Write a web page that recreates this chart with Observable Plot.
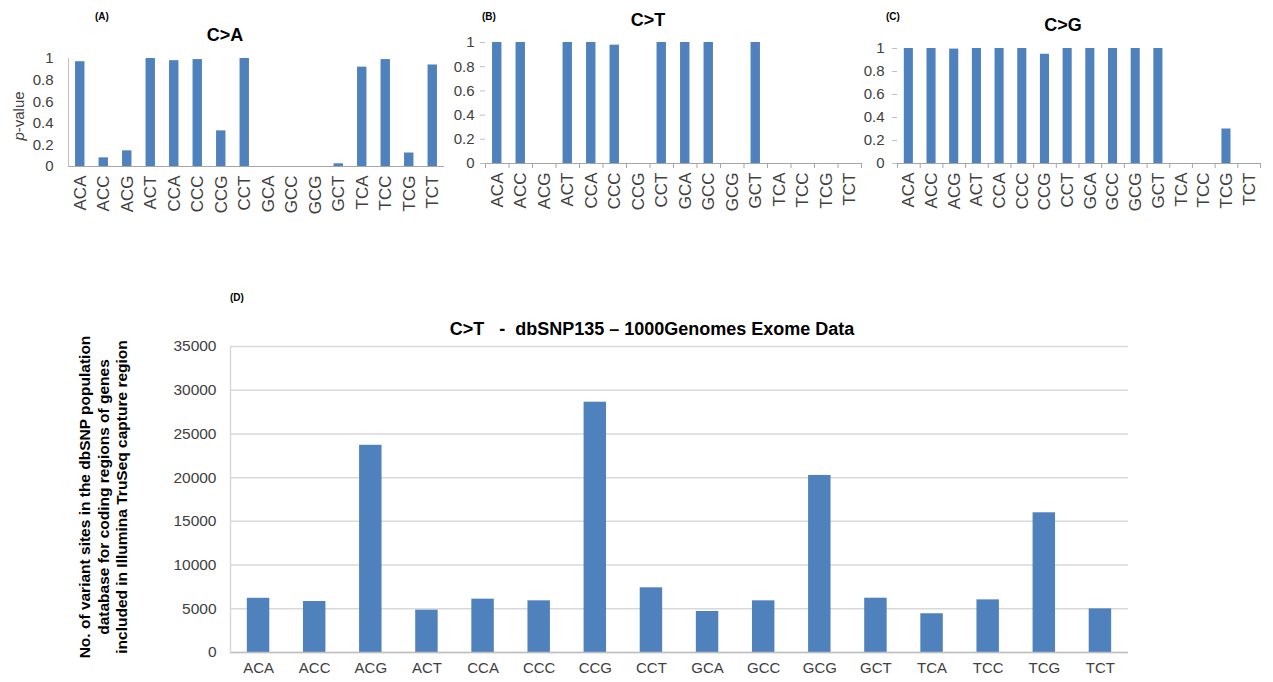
<!DOCTYPE html>
<html>
<head>
<meta charset="utf-8">
<script src="https://cdn.jsdelivr.net/npm/d3@7"></script>
<script src="https://cdn.jsdelivr.net/npm/@observablehq/plot@0.6"></script>
<style>
  html, body { margin: 0; padding: 0; background: #fff; }
  #wrap { position: relative; width: 1273px; height: 682px; font-family: "Liberation Sans", Arial, sans-serif; overflow: hidden; }
  .tag { position: absolute; font-size: 10px; font-weight: bold; color: #000; }
  .title { position: absolute; font-size: 18px; font-weight: bold; color: #000; transform: translate(-50%, -50%); white-space: pre; }
  .rot { position: absolute; transform: translate(-50%, -50%) rotate(-90deg); white-space: nowrap; text-align: center; }
</style>
</head>
<body>
<div id="wrap"></div>
<script>
// ---------- data ----------
const contexts = ["ACA","ACC","ACG","ACT","CCA","CCC","CCG","CCT","GCA","GCC","GCG","GCT","TCA","TCC","TCG","TCT"];
const pValuesCA = [0.97, 0.08, 0.145, 1.0, 0.98, 0.99, 0.33, 1.0, 0, 0, 0, 0.025, 0.92, 0.99, 0.125, 0.94];
const pValuesCT = [1, 1, 0, 1, 1, 0.978, 0, 1, 1, 1, 0, 1, 0, 0, 0, 0];
const pValuesCG = [1, 1, 0.995, 1, 1, 1, 0.95, 1, 1, 1, 1, 1, 0, 0, 0.30, 0];
const dbSnpCounts = [6200, 5830, 23700, 4840, 6100, 5910, 28630, 7400, 4690, 5910, 20250, 6210, 4430, 6020, 15980, 4990];
const pTicks = [0, 0.2, 0.4, 0.6, 0.8, 1];
const countTicks = [0, 5000, 10000, 15000, 20000, 25000, 30000, 35000];

const BLUE = "#4F81BD";
const FONT = '"Liberation Sans", Arial, sans-serif';
const wrap = document.getElementById("wrap");

function place(el, left, top) {
  el.style.position = "absolute";
  el.style.left = left + "px";
  el.style.top = top + "px";
  wrap.appendChild(el);
}
function addText(cls, html, left, top, extra) {
  const d = document.createElement("div");
  d.className = cls;
  d.innerHTML = html;
  d.style.left = left + "px";
  d.style.top = top + "px";
  if (extra) Object.assign(d.style, extra);
  wrap.appendChild(d);
}

function pPanel(values, opts) {
  const {width, height, mL, mR, mT, mB, yPad, excelTicks} = opts;
  const data = contexts.map((c, i) => ({c, v: values[i]}));
  const step = (width - mL - mR) / contexts.length;
  const marks = [
    Plot.barY(data, {x: "c", y: "v", fill: BLUE}),
    Plot.ruleY([0], {stroke: "#A6A6A6"}),
    Plot.axisX({tickRotate: -90, tickSize: 0, tickPadding: 9, label: null, fill: "#404040", fontSize: 17})
  ];
  if (excelTicks) {
    marks.push(
      Plot.axisY({ticks: pTicks, tickSize: 5, tickPadding: yPad, tickFormat: d => String(d), label: null, fill: "#404040", stroke: "#BFBFBF", fontSize: 15}),
      Plot.axisX({tickSize: 5, tickFormat: () => "", label: null, dx: step / 2, stroke: "#A6A6A6"}),
      Plot.axisX({ticks: [contexts[0]], tickSize: 5, tickFormat: () => "", label: null, dx: -step / 2, stroke: "#A6A6A6"})
    );
  } else {
    marks.push(
      Plot.axisY({ticks: pTicks, tickSize: 0, tickPadding: yPad, tickFormat: d => String(d), label: null, fill: "#404040", fontSize: 15}),
      Plot.frame({anchor: "left", stroke: "#BFBFBF"})
    );
  }
  return Plot.plot({
    width, height,
    marginLeft: mL, marginRight: mR, marginTop: mT, marginBottom: mB,
    x: {domain: contexts, paddingInner: 0.6, paddingOuter: 0.3, round: false},
    y: {domain: [0, 1]},
    style: {fontFamily: FONT, fontSize: "15px", background: "transparent", overflow: "visible"},
    marks
  });
}

// Panel A
place(pPanel(pValuesCA, {width: 450, height: 230, mL: 68, mR: 6, mT: 58, mB: 64, yPad: 15, excelTicks: false}), 0, 0);
addText("tag", "(A)", 95, 11);
addText("title", "C&gt;A", 225, 35);
addText("rot", "<i>p</i>-value", 18, 116, {fontSize: "15px", color: "#404040"});

// Panel B
place(pPanel(pValuesCT, {width: 440, height: 230, mL: 55, mR: 9, mT: 42, mB: 67, yPad: 6, excelTicks: true}), 430, 0);
addText("tag", "(B)", 482, 11);
addText("title", "C&gt;T", 648, 20);

// Panel C
place(pPanel(pValuesCG, {width: 423, height: 230, mL: 47, mR: 13, mT: 48, mB: 67, yPad: 8, excelTicks: true}), 850, 0);
addText("tag", "(C)", 886, 11);
addText("title", "C&gt;G", 1063, 25);

// Panel D
const dData = contexts.map((c, i) => ({c, v: dbSnpCounts[i]}));
const plotD = Plot.plot({
  width: 1273, height: 400,
  marginLeft: 230, marginRight: 145, marginTop: 66, marginBottom: 28,
  x: {domain: contexts, paddingInner: 0.6, paddingOuter: 0.3, round: false},
  y: {domain: [0, 35000]},
  style: {fontFamily: FONT, fontSize: "15px", background: "transparent", overflow: "visible"},
  marks: [
    Plot.gridY(countTicks, {stroke: "#D9D9D9", strokeOpacity: 1, strokeWidth: 1.5}),
    Plot.barY(dData, {x: "c", y: "v", fill: BLUE}),
    Plot.ruleY([0], {stroke: "#BFBFBF", strokeWidth: 1.5}),
    Plot.frame({anchor: "left", stroke: "#D9D9D9", strokeWidth: 1.5}),
    Plot.axisY({ticks: countTicks, tickSize: 0, tickPadding: 14, tickFormat: d => String(d), label: null, fill: "#404040", fontSize: 15.5}),
    Plot.axisX({tickSize: 0, tickPadding: 10, label: null, fill: "#404040"})
  ]
});
place(plotD, 0, 280);
addText("tag", "(D)", 230, 292);
addText("title", "C&gt;T   -  dbSNP135 \u2013 1000Genomes Exome Data", 652, 329, {fontSize: "18px"});
addText("rot", "No. of variant sites in the dbSNP population<br>database for coding regions of genes<br>included in Illumina TruSeq capture region", 104, 497, {fontSize: "15.5px", fontWeight: "bold", lineHeight: "18.5px", color: "#000"});
</script>
</body>
</html>
